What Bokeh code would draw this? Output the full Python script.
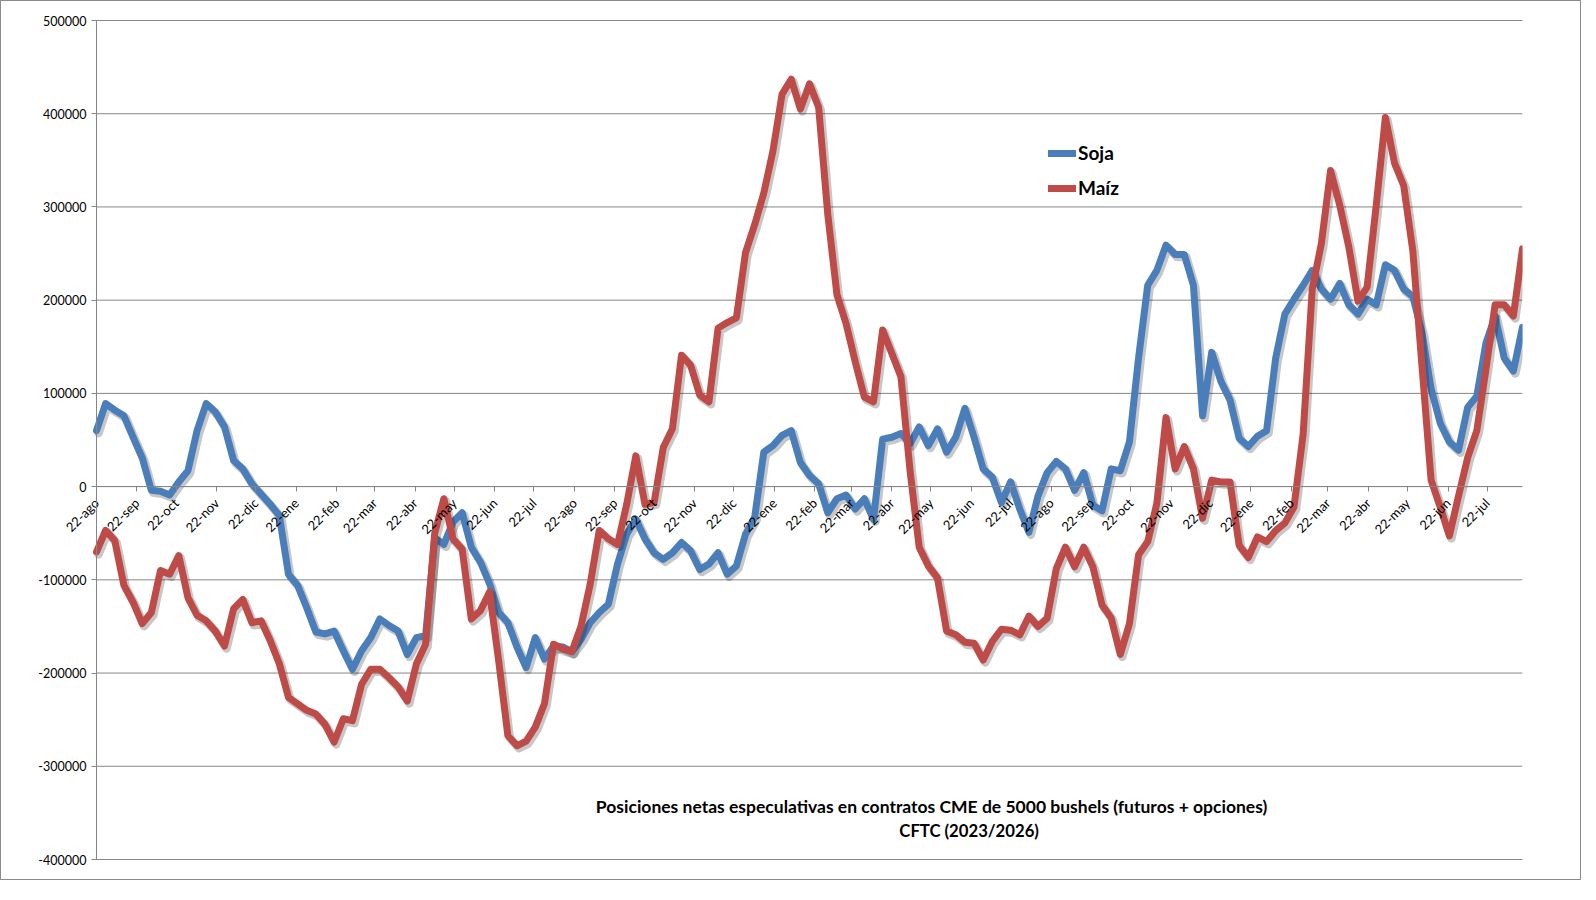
import numpy as np
import pandas as pd
from math import pi
from bokeh.plotting import figure
from bokeh.models import (Range1d, FixedTicker, Legend, LegendItem,
                          NumeralTickFormatter)
from bokeh.core.properties import value
from bokeh.embed import file_html
from bokeh.resources import INLINE

# ---------------- data ----------------
first_week = "2023-08-22"   # weekly CFTC reports (Tuesdays)

soja = [
    60000, 89000, 82000, 76000, 53000, 31000, -4000, -5000, -9000, 5000,
    17000, 60000, 89000, 80000, 64000, 28000, 19000, 3000, -8000, -19000,
    -31000, -94000, -106000, -130000, -156000, -158000, -155000, -176000, -196000, -176000,
    -162000, -142000, -149000, -155000, -180000, -162000, -160000, -55000, -62000, -38000,
    -28000, -65000, -81000, -104000, -135000, -146000, -172000, -194000, -162000, -185000,
    -171000, -172000, -177000, -164000, -146000, -135000, -126000, -83000, -51000, -35000,
    -56000, -71000, -78000, -71000, -60000, -69000, -89000, -83000, -71000, -94000,
    -85000, -51000, -33000, 37000, 44000, 55000, 60000, 26000, 12000, 3000,
    -28000, -13000, -9000, -24000, -13000, -35000, 51000, 53000, 57000, 46000,
    64000, 44000, 62000, 37000, 53000, 84000, 53000, 19000, 10000, -17000,
    5000, -24000, -49000, -10000, 15000, 27000, 19000, -4000, 15000, -20000,
    -26000, 19000, 17000, 48000, 138000, 216000, 232000, 259000, 249000, 249000,
    216000, 76000, 144000, 113000, 93000, 52000, 43000, 54000, 60000, 138000,
    185000, 201000, 216000, 232000, 212000, 201000, 218000, 195000, 185000, 201000,
    195000, 238000, 232000, 212000, 204000, 165000, 105000, 68000, 48000, 39000,
    85000, 97000, 154000, 183000, 138000, 124000, 171000,
]

maiz = [
    -70000, -47000, -58000, -106000, -124000, -147000, -135000, -90000, -94000, -74000,
    -119000, -138000, -144000, -155000, -171000, -131000, -121000, -146000, -144000, -165000,
    -190000, -226000, -233000, -240000, -244000, -255000, -274000, -249000, -251000, -212000,
    -196000, -196000, -205000, -215000, -230000, -190000, -169000, -50000, -13000, -56000,
    -67000, -142000, -133000, -113000, -187000, -267000, -278000, -273000, -258000, -233000,
    -169000, -174000, -177000, -150000, -105000, -47000, -56000, -62000, -19000, 33000,
    -19000, -17000, 42000, 62000, 141000, 130000, 98000, 91000, 170000, 176000,
    181000, 251000, 281000, 315000, 360000, 421000, 437000, 405000, 432000, 407000,
    292000, 206000, 175000, 134000, 96000, 91000, 168000, 143000, 118000, 17000,
    -65000, -85000, -98000, -155000, -159000, -167000, -168000, -186000, -166000, -153000,
    -154000, -159000, -139000, -150000, -141000, -88000, -65000, -86000, -65000, -86000,
    -127000, -141000, -180000, -147000, -73000, -59000, -18000, 74000, 19000, 43000,
    19000, -34000, 7000, 5000, 5000, -63000, -76000, -54000, -59000, -47000,
    -39000, -22000, 56000, 212000, 261000, 339000, 302000, 257000, 199000, 214000,
    302000, 396000, 347000, 323000, 253000, 130000, 7000, -22000, -53000, -10000,
    31000, 60000, 126000, 195000, 195000, 183000, 255000,
]

tick_labels = [
    "22-ago", "22-sep", "22-oct", "22-nov", "22-dic",
    "22-ene", "22-feb", "22-mar", "22-abr", "22-may", "22-jun",
    "22-jul", "22-ago", "22-sep", "22-oct", "22-nov", "22-dic",
    "22-ene", "22-feb", "22-mar", "22-abr", "22-may", "22-jun",
    "22-jul", "22-ago", "22-sep", "22-oct", "22-nov", "22-dic",
    "22-ene", "22-feb", "22-mar", "22-abr", "22-may", "22-jun", "22-jul",
]

y_ticks = [-400000, -300000, -200000, -100000, 0, 100000, 200000, 300000, 400000, 500000]

series_names = ["Soja", "Maíz"]
series_colors = ["#4A7EBB", "#BE4B48"]

title_line1 = "Posiciones netas especulativas en contratos CME de 5000 bushels (futuros + opciones)"
title_line2 = "CFTC (2023/2026)"

# ---------------- derived ----------------
dates = pd.date_range(first_week, periods=len(soja), freq="7D")
tick_dates = pd.date_range(first_week, periods=len(tick_labels), freq=pd.DateOffset(months=1))
tick_ms = [float(t) for t in (tick_dates.asi8 // 10**6)]
start_ms = float(dates[0].value // 10**6)
end_ms = float(dates[-1].value // 10**6)

Y0, Y1 = y_ticks[0], y_ticks[-1]
PLOT_W, PLOT_H = 1426, 839              # Excel plot area in px
PAD_L, PAD_T, PAD_B = 95, 19, 20        # room for axis labels kept inside the frame
px_val = (Y1 - Y0) / PLOT_H             # value units per screen pixel
span = dates[-1] - dates[0]
px_time = span / PLOT_W                 # time per screen pixel

GRID = "#868686"
FONT = "Lato"

p = figure(
    x_axis_type="datetime",
    x_range=Range1d(dates[0] - PAD_L * px_time, dates[-1]),
    y_range=Range1d(Y0 - PAD_B * px_val, Y1 + PAD_T * px_val),
    frame_width=PLOT_W + PAD_L, frame_height=PLOT_H + PAD_T + PAD_B,
    min_border_left=0, min_border_right=58, min_border_top=0, min_border_bottom=0,
    output_backend="svg", toolbar_location=None,
    background_fill_color="white", border_fill_color="white",
    outline_line_color=None,
)
p.styles = {"border": "1px solid #8a8a8a"}

# horizontal gridlines across the plot area only
p.segment(x0=[dates[0]] * len(y_ticks), x1=[dates[-1]] * len(y_ticks), y0=y_ticks, y1=y_ticks,
          line_color=GRID, line_width=1)
p.xgrid.visible = False
p.ygrid.visible = False

# x axis crossing at zero, Excel style
xax = p.xaxis[0]
xax.fixed_location = 0
xax.bounds = (start_ms, end_ms)
xax.ticker = FixedTicker(ticks=tick_ms, minor_ticks=[])
xax.major_label_overrides = {t: l for t, l in zip(tick_ms, tick_labels)}
xax.major_label_orientation = pi / 4
xax.major_label_text_font = FONT
xax.major_label_text_font_size = "13px"
xax.major_label_text_color = "black"
xax.major_label_standoff = 9
xax.axis_line_color = GRID
xax.major_tick_line_color = GRID
xax.major_tick_out = 5
xax.major_tick_in = 0
xax.minor_tick_out = 0
xax.minor_tick_in = 0

# y axis at the first week
yax = p.yaxis[0]
yax.fixed_location = start_ms
yax.bounds = (Y0, Y1)
yax.ticker = FixedTicker(ticks=y_ticks, minor_ticks=[])
yax.formatter = NumeralTickFormatter(format="0")
yax.major_label_text_font = FONT
yax.major_label_text_font_size = "12.5px"
yax.major_label_text_color = "black"
yax.axis_line_color = GRID
yax.major_tick_line_color = GRID
yax.major_tick_out = 5
yax.major_tick_in = 0
yax.minor_tick_out = 0
yax.minor_tick_in = 0
yax.major_label_standoff = 5

# lines with soft shadow (series order as in the source: Soja then Maíz)
renderers = []
for vals, col in zip([soja, maiz], series_colors):
    arr = np.array(vals, dtype=float)
    p.line(dates + 2 * px_time, arr - 2.5 * px_val, line_width=8.5, line_color="black",
           line_alpha=0.22, line_join="round", line_cap="round")
    r = p.line(dates, arr, line_width=7, line_color=col, line_join="round", line_cap="round")
    renderers.append(r)

legend = Legend(
    items=[LegendItem(label=n, renderers=[r]) for n, r in zip(series_names, renderers)],
    location=(1047, 680),
    label_text_font=FONT, label_text_font_style="bold", label_text_font_size="19px",
    label_text_color="black",
    glyph_width=28, glyph_height=20, label_height=20, label_standoff=2, spacing=12,
    padding=0, margin=0, border_line_alpha=0, background_fill_alpha=0,
)
p.add_layout(legend)

# title block inside the plot area
t1_x = dates[0] + 0.5856 * span
t2_x = dates[0] + 0.563 * span
p.text(x=[t1_x], y=[Y1 - 786 * px_val], text=[title_line1], text_align="center",
       text_baseline="middle", text_font=value(FONT), text_font_style="bold",
       text_font_size="17.5px", text_color="black")
p.text(x=[t2_x], y=[Y1 - 810 * px_val], text=[title_line2], text_align="left",
       text_baseline="middle", text_font=value(FONT), text_font_style="bold",
       text_font_size="16.7px", text_color="black")

open("out.html", "w").write(file_html(p, INLINE))
